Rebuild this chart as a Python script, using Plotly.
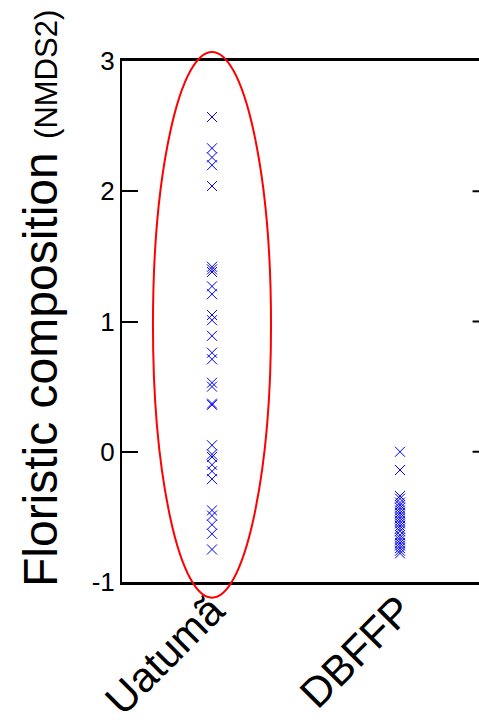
import plotly.graph_objects as go

categories = ["Uatumã", "DBFFP"]

uatuma_nmds2 = [2.57, 2.33, 2.26, 2.20, 2.04, 1.42, 1.40, 1.38, 1.27, 1.21,
                1.05, 1.01, 0.89, 0.76, 0.71, 0.53, 0.50, 0.37, 0.36, 0.05,
                -0.02, -0.04, -0.10, -0.15, -0.21, -0.45, -0.49, -0.56, -0.63, -0.75]

dbffp_nmds2 = [0.00, -0.14, -0.34, -0.36, -0.39, -0.41, -0.43, -0.45, -0.47,
               -0.49, -0.51, -0.53, -0.55, -0.57, -0.59, -0.61, -0.64, -0.66,
               -0.68, -0.70, -0.72, -0.74, -0.76, -0.78]

y_ticks = [-1, 0, 1, 2, 3]
y_tick_labels = ["-1", "0", "1", "2", "3"]

# ellipse around the Uatumã group (data units)
ell_x = (-0.314, 0.314)
ell_y = (-1.12, 3.07)

x_range = [-0.4787, 1.4202]
y_range = [-1, 3]

FONT = "Liberation Sans, Arial, sans-serif"

fig = go.Figure()
for i, vals in enumerate([uatuma_nmds2, dbffp_nmds2]):
    fig.add_trace(go.Scatter(
        x=[i] * len(vals), y=vals, mode="markers",
        marker=dict(symbol="x-thin-open", size=10, color="#0000ff",
                    line=dict(color="#0000ff", width=1)),
        showlegend=False, hoverinfo="y"))

def xd(v):
    return (v - x_range[0]) / (x_range[1] - x_range[0])

def yd(v):
    return (v - y_range[0]) / (y_range[1] - y_range[0])

shapes = [dict(type="circle", xref="x domain", yref="y domain",
               x0=xd(ell_x[0]), x1=xd(ell_x[1]), y0=yd(ell_y[0]), y1=yd(ell_y[1]),
               line=dict(color="red", width=2), layer="above")]
# right-side partial ticks (right axis lies just beyond the picture)
for t in y_ticks[1:-1]:
    shapes.append(dict(type="line", xref="paper", yref="y", x0=0.982, x1=1.0,
                       y0=t, y1=t, line=dict(color="black", width=2)))

fig.update_layout(
    width=479, height=728,
    margin=dict(l=122, r=0, t=61, b=146, autoexpand=False),
    paper_bgcolor="white", plot_bgcolor="white",
    font=dict(family=FONT, color="black"),
    shapes=shapes,
    xaxis=dict(range=x_range, tickvals=[0, 1], ticktext=categories,
               tickangle=-45, tickfont=dict(size=42, family=FONT),
               ticklabelstandoff=-16,
               showline=True, mirror=True, linewidth=3, linecolor="black",
               ticks="", showgrid=False, zeroline=False, automargin=False),
    yaxis=dict(range=y_range, tickvals=y_ticks, ticktext=y_tick_labels,
               tickfont=dict(size=26, family=FONT),
               showline=True, mirror=False, linewidth=2, linecolor="black",
               ticks="inside", ticklen=16, tickwidth=2, tickcolor="black",
               showgrid=False, zeroline=False, automargin=False),
    annotations=[dict(text="Floristic composition <span style='font-size:31px'>(NMDS2)</span>",
                      textangle=-90, xref="paper", yref="paper",
                      x=-0.2297, y=0.545, xanchor="center", yanchor="middle",
                      showarrow=False, font=dict(size=48, family=FONT))],
)

fig.write_html("out.html", config={"displayModeBar": False},
               post_script="document.body.style.margin='0';document.body.style.overflow='hidden';")
